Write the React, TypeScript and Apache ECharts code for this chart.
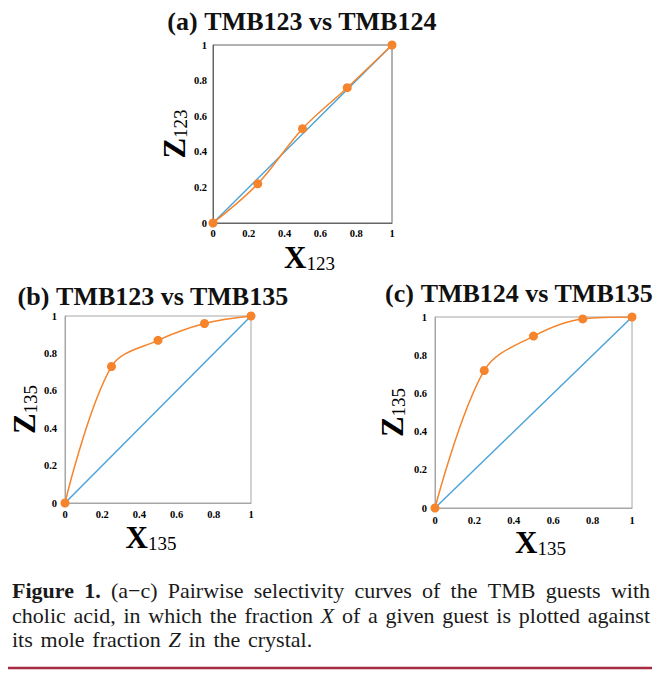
import React, { useEffect, useRef } from "react";
import * as echarts from "echarts";

// ---- data ----
const xFractions = [0, 0.25, 0.5, 0.75, 1];
const zA = [0, 0.22, 0.53, 0.76, 1];
const zB = [0, 0.73, 0.87, 0.96, 1];
const zC = [0, 0.72, 0.9, 0.99, 1];
const diagX = [0, 1];
const diagZ = [0, 1];

const panelLetters = ["(a)", "(b)", "(c)"];
const panelTitles = ["TMB123 vs TMB124", "TMB123 vs TMB135", "TMB124 vs TMB135"];
const xSubs = ["123", "135", "135"];
const zSubs = ["123", "135", "135"];

const captionLines = [
  "Figure 1. (a\u2212c) Pairwise selectivity curves of the TMB guests with",
  "cholic acid, in which the fraction X of a given guest is plotted against",
  "its mole fraction Z in the crystal.",
];

const SERIF = '"Liberation Serif", "Times New Roman", serif';
const ORANGE = "#F5842C";
const BLUE = "#4DA3D9";

const grids = [
  { left: 213, top: 45, width: 179, height: 178, border: "#666", yGap: 6, xGap: 5, nameX: 19, nameY: 16, pad: [0, 0, 0, 14] },
  { left: 65, top: 316, width: 186, height: 187, border: "#a6a6a6", yGap: 8, xGap: 6, nameX: 19, nameY: 21, pad: [0, 14, 0, 0] },
  { left: 435, top: 317, width: 197, height: 191, border: "#a6a6a6", yGap: 8, xGap: 7, nameX: 17, nameY: 27, pad: [0, 0, 0, 14] },
];
const titlePos = [
  { x: 297, y: 1 },
  { x: 148, y: 276 },
  { x: 514, y: 273 },
];

function nameRich() {
  return {
    m: { fontFamily: SERIF, fontWeight: "bold", fontSize: 31, color: "#000" },
    s: { fontFamily: SERIF, fontSize: 19, color: "#000", verticalAlign: "bottom", padding: [12, 0, 0, 0] },
  };
}

export default function App() {
  const ref = useRef<HTMLDivElement>(null);
  useEffect(() => {
    if (!ref.current) return;
    const chart = echarts.init(ref.current, null, { renderer: "svg" });

    const seriesZ = [zA, zB, zC];
    const xAxes: any[] = [];
    const yAxes: any[] = [];
    const series: any[] = [];
    const titles: any[] = [];
    grids.forEach((g, i) => {
      const axisCommon = {
        gridIndex: i,
        type: "value",
        min: 0,
        max: 1,
        interval: 0.2,
        splitLine: { show: false },
        axisTick: { show: false },
        axisLine: { show: true, lineStyle: { color: g.border, width: 1 } },
        nameLocation: "middle",
      };
      const labelStyle = { fontFamily: SERIF, fontWeight: "bold", fontSize: 10.5, color: "#000", formatter: (v: number) => String(+v.toFixed(1)) };
      xAxes.push({
        ...axisCommon,
        axisLabel: { ...labelStyle, margin: g.xGap },
        name: `{m|X}{s|${xSubs[i]}}`,
        nameGap: g.nameX,
        nameTextStyle: { rich: nameRich(), padding: g.pad },
      });
      yAxes.push({
        ...axisCommon,
        axisLabel: { ...labelStyle, margin: g.yGap },
        name: `{m|Z}{s|${zSubs[i]}}`,
        nameRotate: 90,
        nameGap: g.nameY,
        nameTextStyle: { rich: nameRich() },
      });
      series.push({
        type: "line",
        xAxisIndex: i,
        yAxisIndex: i,
        data: diagX.map((x, k) => [x, diagZ[k]]),
        showSymbol: false,
        lineStyle: { color: BLUE, width: 1.5 },
        itemStyle: { color: BLUE },
        z: 2,
      });
      series.push({
        type: "line",
        xAxisIndex: i,
        yAxisIndex: i,
        data: xFractions.map((x, k) => [x, seriesZ[i][k]]),
        smooth: 0.35,
        symbol: "circle",
        symbolSize: 9,
        lineStyle: { color: ORANGE, width: 1.5 },
        itemStyle: { color: ORANGE },
        z: 3,
      });
      titles.push({
        text: `{r|${panelLetters[i]} }{b|${panelTitles[i]}}`,
        left: titlePos[i].x,
        top: titlePos[i].y,
        textAlign: "center",
        textStyle: {
          rich: {
            r: { fontFamily: SERIF, fontSize: 26, color: "#111", lineHeight: 30 },
            b: { fontFamily: SERIF, fontSize: 26, fontWeight: "bold", color: "#111", lineHeight: 30 },
          },
        },
      });
    });

    // caption, justified by measuring words
    const canvas = document.createElement("canvas");
    const ctx = canvas.getContext("2d")!;
    const FS = 22;
    const X0 = 12;
    const X1 = 650;
    const baselines = [597, 622, 646];
    const graphics: any[] = [];
    let lastGap = 6;
    captionLines.forEach((line, li) => {
      const words = line.split(" ");
      const styled = words.map((w, wi) => {
        const bold = li === 0 && wi < 2;
        const italic = (w === "X" || w === "Z");
        const font = `${italic ? "italic " : ""}${bold ? "bold " : ""}${FS}px ${SERIF}`;
        ctx.font = font;
        return { w, bold, italic, width: ctx.measureText(w).width };
      });
      const total = styled.reduce((s, o) => s + o.width, 0);
      const justify = li < captionLines.length - 1;
      const gap = justify ? (X1 - X0 - total) / (styled.length - 1) : lastGap;
      lastGap = gap;
      let x = X0;
      styled.forEach((o) => {
        graphics.push({
          type: "text",
          x,
          y: baselines[li] - 7,
          style: {
            text: o.w,
            fontFamily: SERIF,
            fontSize: FS,
            fontWeight: o.bold ? "bold" : "normal",
            fontStyle: o.italic ? "italic" : "normal",
            fill: "#1a1a1a",
            align: "left",
            verticalAlign: "middle",
          },
        });
        x += o.width + gap;
      });
    });
    graphics.push({
      type: "line",
      shape: { x1: 8, y1: 668, x2: 652, y2: 668 },
      style: { stroke: "#A72B40", lineWidth: 2.5 },
    });

    chart.setOption({
      animation: false,
      backgroundColor: "#fff",
      title: titles,
      grid: grids.map((g) => ({ left: g.left, top: g.top, width: g.width, height: g.height, show: true, borderColor: g.border, borderWidth: 1 })),
      xAxis: xAxes,
      yAxis: yAxes,
      series,
      graphic: graphics,
    });
    return () => chart.dispose();
  }, []);
  return <div ref={ref} style={{ position: "absolute", left: 0, top: 0, width: 654, height: 693, background: "#fff" }} />;
}
